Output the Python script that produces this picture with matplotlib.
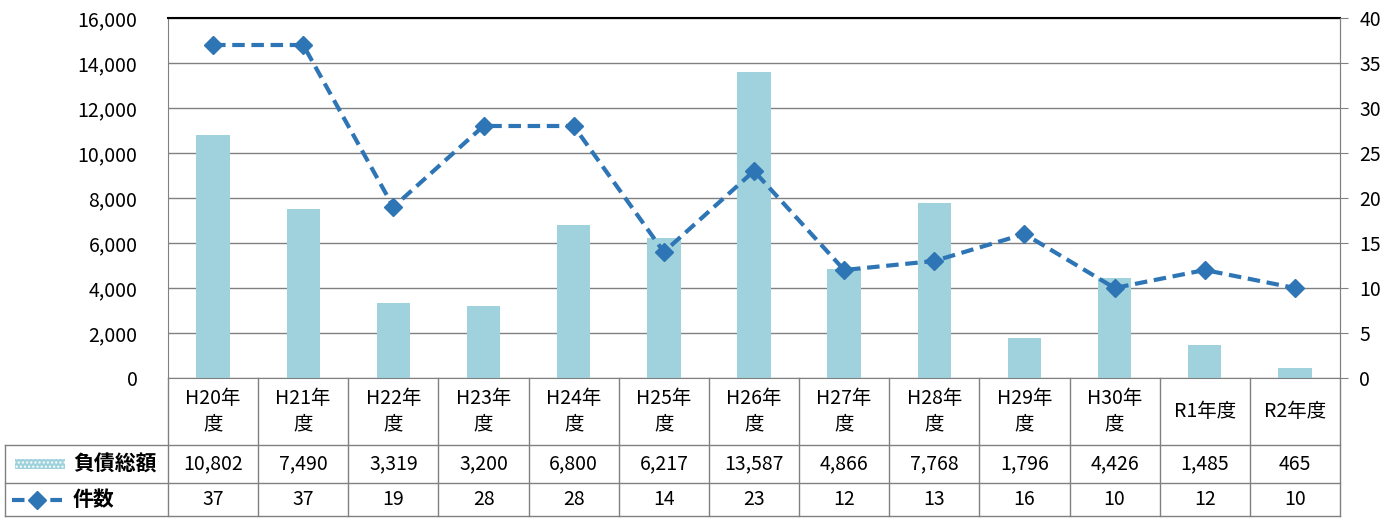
import matplotlib.pyplot as plt
from matplotlib.patches import Rectangle
from matplotlib.lines import Line2D
from matplotlib.ticker import FuncFormatter
import numpy as np

plt.rcParams['font.family'] = ['Noto Sans CJK JP', 'DejaVu Sans']

# data
categories = ['H20年\n度', 'H21年\n度', 'H22年\n度', 'H23年\n度', 'H24年\n度', 'H25年\n度',
              'H26年\n度', 'H27年\n度', 'H28年\n度', 'H29年\n度', 'H30年\n度', 'R1年度', 'R2年度']
debt_total = [10802, 7490, 3319, 3200, 6800, 6217, 13587, 4866, 7768, 1796, 4426, 1485, 465]
case_count = [37, 37, 19, 28, 28, 14, 23, 12, 13, 16, 10, 12, 10]
row_labels = ['負債総額', '件数']

BAR_COLOR = '#9fd2dc'
LINE_COLOR = '#2e75b6'
GRID_COLOR = '#808080'

W, H = 1396, 518
fig = plt.figure(figsize=(W / 100, H / 100), dpi=100)

# plot area in pixel terms
left_px, right_px, top_px, bottom_px = 168, 1340, 18, 378
ax = fig.add_axes([left_px / W, 1 - bottom_px / H, (right_px - left_px) / W, (bottom_px - top_px) / H])
x = np.arange(len(categories))

ax.bar(x, debt_total, width=0.37, color=BAR_COLOR, zorder=2)
ax.set_xlim(-0.5, len(categories) - 0.5)
ax.set_ylim(0, 16000)
ax.set_yticks(np.arange(0, 16001, 2000))
ax.yaxis.set_major_formatter(FuncFormatter(lambda v, p: f'{int(v):,}'))
ax.tick_params(axis='y', length=0, labelsize=14, pad=22)
ax.set_xticks([])
ax.grid(axis='y', color=GRID_COLOR, lw=1)
ax.set_axisbelow(True)
ax.spines['top'].set_color('black')
ax.spines['top'].set_linewidth(1.5)
for s in ['left', 'right', 'bottom']:
    ax.spines[s].set_color(GRID_COLOR)

ax2 = ax.twinx()
ax2.plot(x, case_count, color=LINE_COLOR, lw=3, ls='--', dashes=(3, 1.6),
         marker='D', ms=9, zorder=3)
ax2.set_ylim(0, 40)
ax2.set_yticks(np.arange(0, 41, 5))
ax2.tick_params(axis='y', length=6, color=GRID_COLOR, labelsize=14, pad=8)
ax2.spines['right'].set_color(GRID_COLOR)
ax2.spines['left'].set_visible(False)
ax2.spines['top'].set_visible(False)
ax2.spines['bottom'].set_visible(False)

# data table below the plot
tab = fig.add_axes([left_px / W, 0, (right_px - left_px) / W, (H - bottom_px) / H])
tab.set_xlim(-0.5, len(categories) - 0.5)
tab.set_ylim(H - bottom_px, 0)
tab.axis('off')

col_w = (right_px - left_px) / len(categories)
outer_left = (5 - left_px) / col_w - 0.5
row_y = [0, 67, 105, 138]

for i in range(len(categories) + 1):
    tab.plot([i - 0.5, i - 0.5], [0, row_y[-1]], color=GRID_COLOR, lw=1, clip_on=False)
tab.plot([outer_left, outer_left], [row_y[1], row_y[-1]], color=GRID_COLOR, lw=1, clip_on=False)
for yy in row_y[1:]:
    tab.plot([outer_left, len(categories) - 0.5], [yy, yy], color=GRID_COLOR, lw=1, clip_on=False)

for i, cat in enumerate(categories):
    tab.text(i, (row_y[0] + row_y[1]) / 2, cat, ha='center', va='center', fontsize=14, linespacing=1.3)
    tab.text(i, (row_y[1] + row_y[2]) / 2, f'{debt_total[i]:,}', ha='center', va='center', fontsize=14)
    tab.text(i, (row_y[2] + row_y[3]) / 2, str(case_count[i]), ha='center', va='center', fontsize=14)

# legend keys inside the table
def px2x(px):
    return (px - left_px) / col_w - 0.5

yc1 = (row_y[1] + row_y[2]) / 2
yc2 = (row_y[2] + row_y[3]) / 2
tab.add_patch(Rectangle((px2x(15), yc1 - 5), px2x(65) - px2x(15), 10,
                        facecolor=BAR_COLOR, edgecolor='white', hatch='....', lw=0, clip_on=False))
tab.add_line(Line2D([px2x(12), px2x(62)], [yc2, yc2], color=LINE_COLOR, lw=3, ls='--',
                    dashes=(3, 1.6), clip_on=False))
tab.plot([px2x(37)], [yc2], marker='D', ms=9, color=LINE_COLOR, clip_on=False)
tab.text(px2x(73), yc1, row_labels[0], ha='left', va='center', fontsize=15, fontweight='bold')
tab.text(px2x(73), yc2, row_labels[1], ha='left', va='center', fontsize=15, fontweight='bold')

fig.savefig('out.png', dpi=100, facecolor='white')
